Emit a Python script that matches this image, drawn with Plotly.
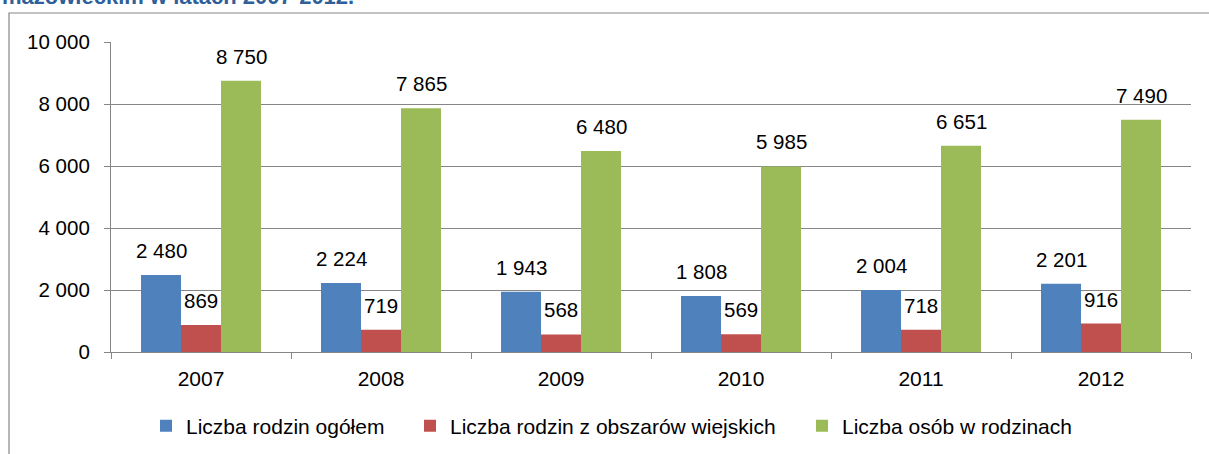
import plotly.graph_objects as go

years = ["2007", "2008", "2009", "2010", "2011", "2012"]
series_names = ["Liczba rodzin ogółem", "Liczba rodzin z obszarów wiejskich", "Liczba osób w rodzinach"]
rodziny_ogolem = [2480, 2224, 1943, 1808, 2004, 2201]
rodziny_wies = [869, 719, 568, 569, 718, 916]
osoby = [8750, 7865, 6480, 5985, 6651, 7490]
colors = ["#4F81BD", "#C0504D", "#9BBB59"]
y_ticks = [0, 2000, 4000, 6000, 8000, 10000]
title_text = "mazowieckim w latach 2007-2012."

W, H = 1209, 454
ML, MR, MT, MB = 111, 18, 42, 102
PW, PH = W - ML - MR, H - MT - MB
FONT = "Liberation Sans, Arial, sans-serif"

def fmt(v):
    return f"{v:,}".replace(",", " ")

def px_x(p):
    return (p - ML) / PW

def px_y(p):
    return (H - MB - p) / PH

fig = go.Figure()
all_series = [rodziny_ogolem, rodziny_wies, osoby]
legend_names = ["legend", "legend2", "legend3"]
for i, (name, vals) in enumerate(zip(series_names, all_series)):
    fig.add_trace(go.Bar(
        x=years, y=vals, name=name,
        marker=dict(color=colors[i], line=dict(width=0)),
        legend=legend_names[i],
    ))

annotations = []
offsets = [-40, 0, 40]
for i, vals in enumerate(all_series):
    for k, v in enumerate(vals):
        annotations.append(dict(
            x=k, y=v, xref="x", yref="y", text=fmt(v), showarrow=False,
            xshift=offsets[i], yanchor="bottom", yshift=11,
            font=dict(family=FONT, size=20.5, color="#000000"),
        ))

annotations.append(dict(
    x=px_x(0), y=px_y(-3.5), xref="paper", yref="paper", text="<b>" + title_text + "</b>",
    showarrow=False, xanchor="left", yanchor="middle",
    font=dict(family=FONT, size=22, color="#2F5F9A"),
))

legend_x = [146, 410, 802]
leg_common = dict(orientation="h", xref="container", yref="container",
                  xanchor="left", yanchor="middle", y=1 - 426 / H,
                  font=dict(family=FONT, size=21, color="#000000"),
                  bgcolor="rgba(0,0,0,0)", borderwidth=0, itemwidth=30)

layout_legends = {}
for ln, lx in zip(legend_names, legend_x):
    d = dict(leg_common)
    d["x"] = lx / W
    layout_legends[ln] = d

fig.update_layout(
    width=W, height=H,
    margin=dict(l=ML, r=MR, t=MT, b=MB, pad=0, autoexpand=False),
    paper_bgcolor="white", plot_bgcolor="white",
    barmode="group", bargap=1/3, bargroupgap=0,
    separators=", ",
    font=dict(family=FONT, size=20, color="#000000"),
    showlegend=True,
    annotations=annotations,
    shapes=[dict(type="rect", xref="paper", yref="paper",
                 x0=px_x(9), x1=px_x(1230), y0=px_y(480), y1=px_y(13),
                 line=dict(color="#868686", width=1.2), fillcolor="rgba(0,0,0,0)", layer="below")],
    xaxis=dict(
        type="category", range=[-0.5, len(years) - 0.5], autorange=False,
        showgrid=False, showline=True, linecolor="#868686", linewidth=1.2,
        ticks="outside", tickson="boundaries", ticklen=6, tickcolor="#868686", tickwidth=1.2,
        tickfont=dict(family=FONT, size=21, color="#000000"), ticklabelstandoff=8,
        tickangle=0, automargin=False,
    ),
    yaxis=dict(
        range=[0, 10000], autorange=False, tickvals=y_ticks, tickformat=",d",
        showgrid=True, gridcolor="#868686", gridwidth=1.2,
        showline=True, linecolor="#868686", linewidth=1.2,
        ticks="outside", ticklen=6, tickcolor="#868686", tickwidth=1.2,
        tickfont=dict(family=FONT, size=20.5, color="#000000"), ticklabelstandoff=10,
        zeroline=False, automargin=False,
    ),
    **layout_legends,
)

fig.write_html("out.html", config={"displayModeBar": False},
               post_script="document.body.style.margin='0px';document.body.style.overflow='hidden';")
